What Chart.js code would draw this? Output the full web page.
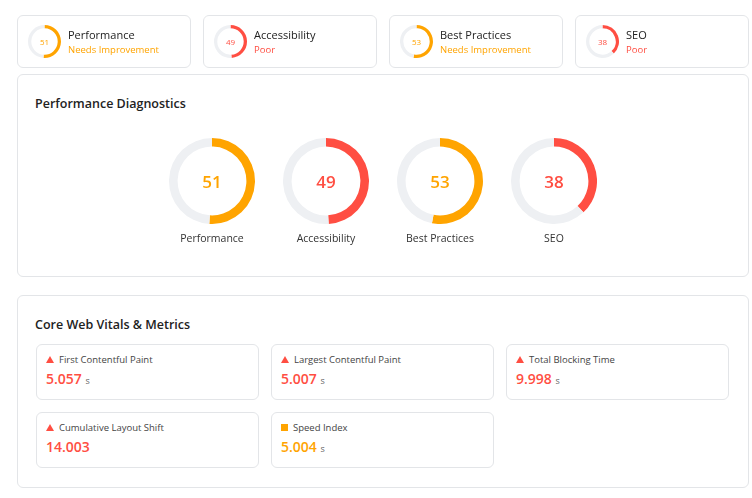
<!DOCTYPE html>
<html><head><meta charset="utf-8">
<script src="https://cdn.jsdelivr.net/npm/chart.js@4.4.0/dist/chart.umd.min.js"></script>
<style>
body{margin:0;background:#fff;font-family:"Open Sans","Noto Sans",sans-serif;color:#222;width:752px;height:498px;overflow:hidden;position:relative}
.box{position:absolute;border:1px solid #e3e5e8;border-radius:6px;box-sizing:border-box;background:#fff}
.ring{position:absolute}
.ring canvas{position:absolute;left:0;top:0}
.ring .v{position:absolute;left:0;top:0;width:100%;height:100%;display:flex;align-items:center;justify-content:center}
.t{position:absolute;font-size:11px}
h3{position:absolute;margin:0;font-size:12.5px;font-weight:600;color:#222}
</style></head><body>
<div id="root"></div>
<script>
var categories = ['Performance', 'Accessibility', 'Best Practices', 'SEO'];
var scores = [51, 49, 53, 38];
var statusText = ['Needs Improvement', 'Poor', 'Needs Improvement', 'Poor'];
var metricNames = ['First Contentful Paint', 'Largest Contentful Paint', 'Total Blocking Time', 'Cumulative Layout Shift', 'Speed Index'];
var metricValues = ['5.057', '5.007', '9.998', '14.003', '5.004'];
var metricUnits = ['s', 's', 's', '', 's'];
var metricLevel = ['poor', 'poor', 'poor', 'poor', 'avg'];

var ORANGE = '#ffa400', RED = '#ff4e42', TRACK = '#eef0f3';
function colorFor(s) { return s >= 50 ? ORANGE : RED; }
var root = document.getElementById('root');
function el(tag, cls, style, html) {
  var e = document.createElement(tag);
  if (cls) e.className = cls;
  if (style) e.style.cssText = style;
  if (html != null) e.innerHTML = html;
  root.appendChild(e);
  return e;
}
function ring(x, y, size, score, cutout, fontSize, weight) {
  var w = el('div', 'ring', 'left:' + x + 'px;top:' + y + 'px;width:' + size + 'px;height:' + size + 'px');
  var c = document.createElement('canvas');
  c.width = size; c.height = size;
  c.style.width = size + 'px'; c.style.height = size + 'px';
  w.appendChild(c);
  var v = document.createElement('div');
  v.className = 'v';
  v.style.cssText += 'font-size:' + fontSize + 'px;font-weight:' + weight + ';color:' + colorFor(score);
  v.textContent = score;
  w.appendChild(v);
  new Chart(c.getContext('2d'), {
    type: 'doughnut',
    data: { datasets: [{ data: [score, 100 - score], backgroundColor: [colorFor(score), TRACK], borderWidth: 0 }] },
    options: {
      responsive: false, animation: false, cutout: cutout,
      plugins: { legend: { display: false }, tooltip: { enabled: false } }
    }
  });
}

// top summary cards
for (var i = 0; i < 4; i++) {
  var x = 17 + i * 186;
  el('div', 'box', 'left:' + x + 'px;top:15px;width:174px;height:53px');
  ring(x + 11, 25, 33, scores[i], '80%', 8, 400);
  el('div', 't', 'left:' + (x + 51) + 'px;top:27px;font-size:11px;color:#222', categories[i]);
  el('div', 't', 'left:' + (x + 51) + 'px;top:43px;font-size:9.5px;color:' + colorFor(scores[i]), statusText[i]);
}

// diagnostics
el('div', 'box', 'left:17px;top:74px;width:732px;height:203px');
el('h3', '', 'left:35px;top:95px', 'Performance Diagnostics');
for (var j = 0; j < 4; j++) {
  var cx = 212 + j * 114;
  ring(cx - 43, 138, 86, scores[j], '80%', 17, 600);
  el('div', 't', 'left:' + (cx - 60) + 'px;top:231px;width:120px;text-align:center;font-size:10.5px;color:#333', categories[j]);
}

// metrics
el('div', 'box', 'left:17px;top:295px;width:732px;height:193px');
el('h3', '', 'left:35px;top:316px', 'Core Web Vitals &amp; Metrics');
for (var k = 0; k < metricNames.length; k++) {
  var col = k % 3, row = Math.floor(k / 3);
  var mx = 36 + col * 235, my = 344 + row * 68;
  var mc = metricLevel[k] === 'poor' ? RED : ORANGE;
  var icon = metricLevel[k] === 'poor'
    ? '<span style="display:inline-block;width:0;height:0;border-left:4px solid transparent;border-right:4px solid transparent;border-bottom:7px solid ' + RED + ';margin-right:5px"></span>'
    : '<span style="display:inline-block;width:7px;height:7px;background:' + ORANGE + ';margin-right:5px"></span>';
  el('div', 'box', 'left:' + mx + 'px;top:' + my + 'px;width:223px;height:56px');
  el('div', 't', 'left:' + (mx + 10) + 'px;top:' + (my + 9) + 'px;font-size:9.5px;color:#444', icon + metricNames[k]);
  el('div', 't', 'left:' + (mx + 10) + 'px;top:' + (my + 25) + 'px;font-size:14px;font-weight:600;color:' + mc,
     metricValues[k] + (metricUnits[k] ? ' <span style="font-size:9px;font-weight:400;color:#666">' + metricUnits[k] + '</span>' : ''));
}
</script>
</body></html>
